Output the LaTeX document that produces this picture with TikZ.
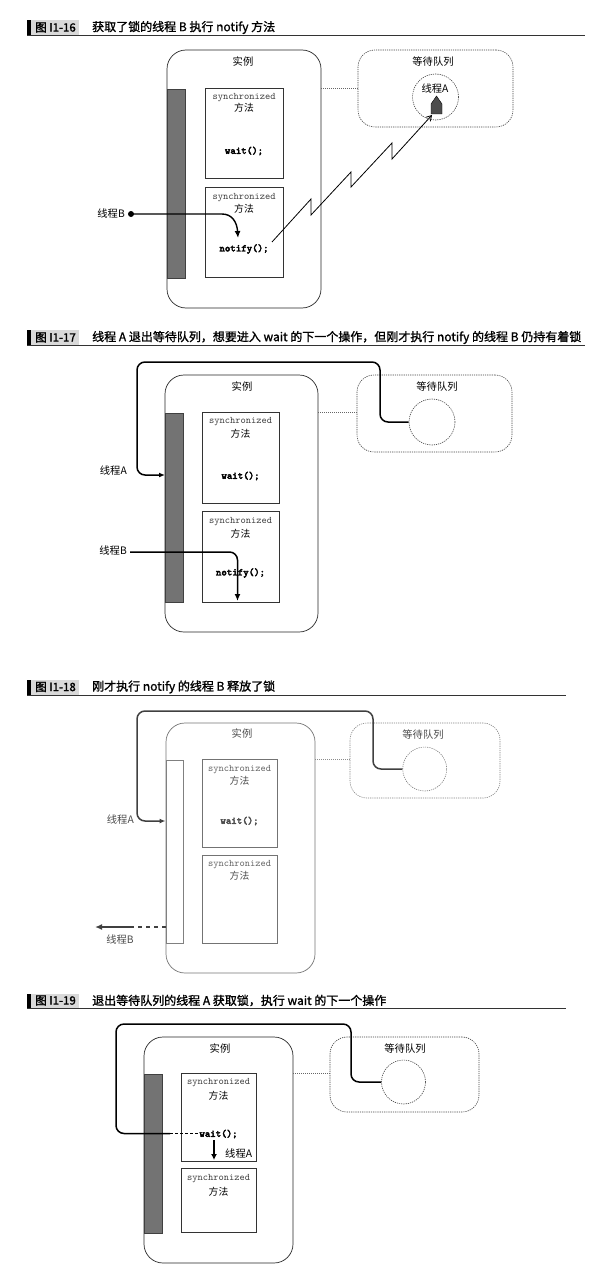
\documentclass[tikz,border=0pt]{standalone}
\usepackage{fontspec}
\setmainfont{Noto Sans CJK SC}
\newfontfamily\titlefont{Noto Sans CJK SC}[FakeBold=1.3]
\newfontfamily\codebold{lmmonolt10-bold.otf}[FakeBold=3]
\usetikzlibrary{arrows.meta}
\begin{document}
\begin{tikzpicture}[x=1pt,y=-1pt,
  inst/.style={draw=black!85, line width=0.7pt, rounded corners=19pt, inner sep=0pt},
  queue/.style={draw=black!75, line width=0.6pt, dash pattern=on 1.2pt off 1pt, rounded corners=17pt, inner sep=0pt},
  qcirc/.style={circle, draw=black!75, line width=0.6pt, dash pattern=on 1.2pt off 1pt, inner sep=0pt},
  lockbar/.style={fill=black!55, draw=black!75, line width=0.5pt, inner sep=0pt},
  freebar/.style={fill=white, draw=black!50, line width=0.6pt, inner sep=0pt},
  method/.style={draw=black!80, line width=0.6pt, inner sep=0pt},
  link/.style={draw=black!60, line width=0.6pt, dash pattern=on 1pt off 1pt},
  thread/.style={line width=1.5pt, rounded corners=8pt},
  tip/.style={-{Latex[length=6pt,width=5pt]}},
  lbl/.style={inner sep=0pt, font=\fontsize{10.3}{12}\selectfont},
  syn/.style={inner sep=0pt, font=\ttfamily\fontsize{10}{10}\selectfont, text=black!75},
  fa/.style={inner sep=0pt, font=\fontsize{9.8}{10}\selectfont},
  code/.style={inner sep=0pt, font=\codebold\fontsize{10.4}{10}\selectfont},
  ttl/.style={inner sep=0pt, anchor=west, font=\titlefont\fontsize{12}{14}\selectfont},
  tnum/.style={inner sep=0pt, font=\titlefont\fontsize{11.5}{14}\selectfont},
  rule/.style={line width=0.8pt, draw=black!80}
]
\useasboundingbox (0,0) rectangle (606,1279);

% ================= Panel 1 =================
\fill[black] (27,20) rectangle (30.5,35);
\fill[black!15] (30.5,20) rectangle (79,35);
\node[tnum] (n1) at (55.5,27.5) {图 I1-16};
\node[ttl] (t1) at (92,27.5) {获取了锁的线程 B 执行 notify 方法};
\draw[rule] (27,35.5) -- (585,35.5);

\node[inst, minimum width=154pt, minimum height=258pt] (i1) at (244,179) {};
\node[lbl] (i1l) at (243,62) {实例};
\node[lockbar, minimum width=18.5pt, minimum height=189pt] (bar1) at (176.25,183.5) {};
\node[method, minimum width=78pt, minimum height=90pt] (m1a) at (244,133) {};
\node[method, minimum width=78pt, minimum height=90pt] (m1b) at (244,232) {};
\node[syn] (s1a) at (244,98) {synchronized};
\node[fa] (f1a) at (244,108) {方法};
\node[code] (w1) at (244,151) {wait();};
\node[syn] (s1b) at (244,197.5) {synchronized};
\node[fa] (f1b) at (244,208.5) {方法};
\node[code] (nt1) at (244,249) {notify();};
\node[queue, minimum width=155pt, minimum height=77pt] (q1) at (435.5,88.5) {};
\node[lbl] (q1l) at (433,62) {等待队列};
\node[qcirc, minimum size=46pt] (c1) at (435.5,97) {};
\node[lbl] (a1) at (435,88.5) {线程A};
\draw[link] (i1.east |- bar1.north) -- (q1.west |- bar1.north);
\node[lbl, anchor=east] (b1) at (125,214) {线程B};
\node[circle, fill=black, inner sep=0pt, minimum size=6pt] (d1) at (131,214) {};
\coordinate (e1) at (238,238);
\draw[line width=1.4pt, -{Latex[length=7pt,width=6pt]}] (d1.center) -- (222,214) .. controls (232,214) and (237,222) .. (e1);
\filldraw[fill=black!70, draw=black, line width=0.4pt] (431,114) -- (431,104) -- (436.5,96) -- (442,104) -- (442,114) -- cycle;
\coordinate (zs) at (272,242);
\coordinate (ze) at (432,115);
\draw[line width=0.8pt, -{Straight Barb[length=5pt,width=6pt]}] (zs) -- (311,199) -- (311,215) -- (351,172) -- (351,187) -- (392,143) -- (392,159) -- (ze);

% ================= Panel 2 =================
\fill[black] (27,330) rectangle (30.5,345);
\fill[black!15] (30.5,330) rectangle (79,345);
\node[tnum] (n2) at (55.5,337.5) {图 I1-17};
\node[ttl] (t2) at (92,337.5) {线程 A 退出等待队列，想要进入 wait 的下一个操作，但刚才执行 notify 的线程 B 仍持有着锁};
\draw[rule] (27,345.5) -- (585,345.5);

\node[inst, minimum width=153pt, minimum height=257pt] (i2) at (241.5,503.5) {};
\node[lbl] (i2l) at (242,387) {实例};
\node[lockbar, minimum width=18pt, minimum height=189pt] (bar2) at (174,507.5) {};
\node[method, minimum width=77pt, minimum height=91pt] (m2a) at (240.5,457.5) {};
\node[method, minimum width=77pt, minimum height=91pt] (m2b) at (240.5,556.5) {};
\node[syn] (s2a) at (240.5,422) {synchronized};
\node[fa] (f2a) at (240.5,434) {方法};
\node[code] (w2) at (240.5,476) {wait();};
\node[syn] (s2b) at (240.5,522) {synchronized};
\node[fa] (f2b) at (240.5,533.5) {方法};
\node[code] (nt2) at (240.5,573) {notify();};
\node[queue, minimum width=155pt, minimum height=77pt] (q2) at (434.5,413.5) {};
\node[lbl] (q2l) at (437,387) {等待队列};
\node[qcirc, minimum size=46pt] (c2) at (432,422) {};
\draw[link] (i2.east |- bar2.north) -- (q2.west |- bar2.north);
\node[lbl, anchor=east] (a2) at (127,471) {线程A};
\node[lbl, anchor=east] (b2) at (127,551) {线程B};
\coordinate (a2e) at (165,475);
\draw[thread, tip] (c2.west) -- (380,422) -- (380,362) -- (137,362) -- (137,475) -- (a2e);
\coordinate (b2s) at (130,552);
\coordinate (b2e) at (237.5,601);
\draw[thread, -{Latex[length=7pt,width=6pt]}] (b2s) -- (237.5,552) -- (b2e);

% ================= Panel 3 =================
\fill[black] (27,680) rectangle (30.5,694.5);
\fill[black!15] (30.5,680) rectangle (79,694.5);
\node[tnum] (n3) at (55.5,687) {图 I1-18};
\node[ttl] (t3) at (92,687) {刚才执行 notify 的线程 B 释放了锁};
\draw[rule] (27,695) -- (566,695);

\begin{scope}[every node/.append style={text=black!70}]
\node[inst, draw=black!55, minimum width=149pt, minimum height=250pt] (i3) at (240.5,848) {};
\node[lbl] (i3l) at (242,734) {实例};
\node[freebar, minimum width=17pt, minimum height=183pt] (bar3) at (174.5,851.5) {};
\node[method, draw=black!55, minimum width=75pt, minimum height=88pt] (m3a) at (239.5,803) {};
\node[method, draw=black!55, minimum width=75pt, minimum height=88pt] (m3b) at (239.5,899) {};
\node[syn, text=black!60] (s3a) at (239.5,769.5) {synchronized};
\node[fa] (f3a) at (239.5,780.5) {方法};
\node[code] (w3) at (239.5,821) {wait();};
\node[syn, text=black!60] (s3b) at (239.5,864.5) {synchronized};
\node[fa] (f3b) at (239.5,876) {方法};
\node[queue, draw=black!50, minimum width=150pt, minimum height=75pt] (q3) at (425,760.5) {};
\node[lbl] (q3l) at (423,735) {等待队列};
\node[qcirc, draw=black!50, minimum size=44pt] (c3) at (424.7,769) {};
\node[lbl, anchor=east] (a3) at (134,820) {线程A};
\node[lbl] (b3) at (120,939.5) {线程B};
\end{scope}
\draw[link, draw=black!45] (i3.east |- bar3.north) -- (q3.west |- bar3.north);
\coordinate (a3e) at (165.5,821);
\draw[thread, draw=black!75, tip] (c3.west) -- (373,769) -- (373,711) -- (137,711) -- (137,821) -- (a3e);
\coordinate (b3m) at (132,927);
\coordinate (b3e) at (95,927);
\draw[line width=1.5pt, draw=black!75, dash pattern=on 4pt off 4pt] (bar3.west |- b3m) -- (b3m);
\draw[line width=1.5pt, draw=black!75, -{Latex[length=7pt,width=6pt]}] (b3m) -- (b3e);

% ================= Panel 4 =================
\fill[black] (27,993.5) rectangle (30.5,1008);
\fill[black!15] (30.5,993.5) rectangle (79,1008);
\node[tnum] (n4) at (55.5,1000.5) {图 I1-19};
\node[ttl] (t4) at (92,1000.5) {退出等待队列的线程 A 获取锁，执行 wait 的下一个操作};
\draw[rule] (27,1008.5) -- (566,1008.5);

\node[inst, minimum width=149pt, minimum height=226pt] (i4) at (218.5,1150) {};
\node[lbl] (i4l) at (220,1049) {实例};
\node[lockbar, minimum width=18pt, minimum height=159pt] (bar4) at (153,1153.5) {};
\node[method, minimum width=75pt, minimum height=88pt] (m4a) at (218.5,1117) {};
\node[method, minimum width=75pt, minimum height=64pt] (m4b) at (218.5,1200) {};
\node[syn] (s4a) at (218.5,1082.5) {synchronized};
\node[fa] (f4a) at (218.5,1096) {方法};
\node[code] (w4) at (218.5,1134) {wait();};
\node[syn] (s4b) at (218.5,1179) {synchronized};
\node[fa] (f4b) at (218.5,1192) {方法};
\node[queue, minimum width=149pt, minimum height=75pt] (q4) at (404.5,1074.5) {};
\node[lbl] (q4l) at (405,1048.5) {等待队列};
\node[qcirc, minimum size=44pt] (c4) at (403.5,1082) {};
\draw[link] (i4.east |- bar4.north) -- (q4.west |- bar4.north);
\coordinate (a4m) at (170,1133.5);
\draw[thread] (c4.west) -- (351,1082) -- (351,1024) -- (116,1024) -- (116,1133.5) -- (a4m);
\draw[line width=1.5pt, dash pattern=on 3pt off 2pt] (a4m) -- (w4.west |- a4m);
\coordinate (a4s) at (214,1140);
\coordinate (a4e) at (214,1160);
\draw[line width=1.3pt, -{Latex[length=6pt,width=6pt]}] (a4s) -- (a4e);
\node[lbl, anchor=west] (a4) at (225,1154) {线程A};

\end{tikzpicture}
\end{document}
